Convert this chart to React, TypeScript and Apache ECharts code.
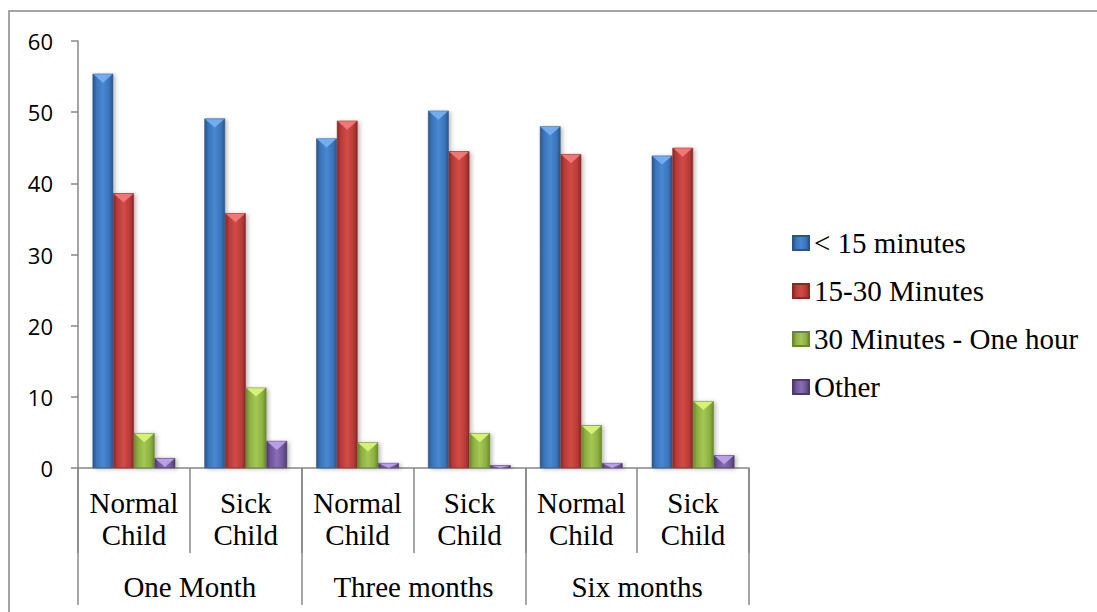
import React, { useEffect, useRef } from "react";
import * as echarts from "echarts";

// Sub-groups along the x axis (two-line labels) and the period each pair belongs to
const categories = [
  "Normal\nChild",
  "Sick\nChild",
  "Normal\nChild",
  "Sick\nChild",
  "Normal\nChild",
  "Sick\nChild",
];
const periods = ["One Month", "Three months", "Six months"];

const seriesNames = ["< 15 minutes", "15-30 Minutes", "30 Minutes - One hour", "Other"];

// Percentages per duration
const under15 = [55.4, 49.1, 46.3, 50.2, 48.0, 43.9];
const from15to30 = [38.6, 35.8, 48.8, 44.5, 44.1, 45.0];
const from30to60 = [4.9, 11.3, 3.6, 4.9, 6.0, 9.4];
const other = [1.4, 3.8, 0.7, 0.4, 0.7, 1.8];

const yMin = 0;
const yMax = 60;
const yStep = 10;

const seriesValues = [under15, from15to30, from30to60, other];

// Bevelled look: dark edges, lighter middle, and a pale cap on top
const palette = [
  { dark: "#2a548c", base: "#3a74b8", light: "#4888d4", cap: "#74b0f2" },
  { dark: "#8a2826", base: "#b73b38", light: "#d34a46", cap: "#f27a78" },
  { dark: "#6a882e", base: "#8caf40", light: "#a4c756", cap: "#d8f478" },
  { dark: "#4c3a6c", base: "#6d5596", light: "#8a6db8", cap: "#bda2e6" },
];

const CATEGORY_GAP = 0.26;
const AXIS_GREY = "#878787";
const SERIF = "'Liberation Serif', 'Times New Roman', 'DejaVu Serif', serif";
const SANS = "'Open Sans', 'Liberation Sans', sans-serif";

function barGradient(p: { dark: string; base: string; light: string }) {
  return new echarts.graphic.LinearGradient(0, 0, 1, 0, [
    { offset: 0, color: p.dark },
    { offset: 0.18, color: p.base },
    { offset: 0.5, color: p.light },
    { offset: 0.82, color: p.base },
    { offset: 1, color: p.dark },
  ]);
}

export default function App() {
  const ref = useRef<HTMLDivElement>(null);

  useEffect(() => {
    document.body.style.margin = "0";
    const chart = echarts.init(ref.current!, null, { renderer: "svg" });

    const barSeries = seriesValues.map((vals, i) => ({
      name: seriesNames[i],
      type: "bar",
      data: vals,
      barGap: "0%",
      barCategoryGap: `${CATEGORY_GAP * 100}%`,
      itemStyle: {
        color: barGradient(palette[i]),
        borderColor: palette[i].dark,
        borderWidth: 0.6,
        shadowColor: "rgba(0,0,0,0.28)",
        shadowBlur: 4,
        shadowOffsetX: 2,
        shadowOffsetY: 1,
      },
      z: 2,
    }));

    // Pale triangular cap at the top of every bar
    const capSeries = seriesValues.map((vals, i) => ({
      name: `cap-${i}`,
      type: "custom",
      data: vals.map((v, c) => [c, v]),
      encode: { x: 0, y: 1 },
      z: 4,
      silent: true,
      renderItem: (_params: any, api: any) => {
        const c = api.value(0);
        const v = api.value(1);
        const top = api.coord([c, v]);
        const base = api.coord([c, 0]);
        const band = api.size([1, 0])[0];
        const bw = (band * (1 - CATEGORY_GAP)) / seriesValues.length;
        const x0 = top[0] - (band * (1 - CATEGORY_GAP)) / 2 + bw * i;
        const h = Math.min(9, Math.max(0, base[1] - top[1]));
        return {
          type: "polygon",
          shape: {
            points: [
              [x0 + 0.8, top[1] + 0.6],
              [x0 + bw - 0.8, top[1] + 0.6],
              [x0 + bw / 2, top[1] + h],
            ],
          },
          style: { fill: palette[i].cap, opacity: 0.95 },
        };
      },
    }));

    chart.setOption({
      animation: false,
      grid: { left: 78, right: 348, top: 41, bottom: 144, containLabel: false },
      legend: {
        data: seriesNames,
        orient: "vertical",
        left: 792,
        top: 228,
        padding: 0,
        itemGap: 18,
        itemWidth: 16,
        itemHeight: 14,
        icon: "rect",
        selectedMode: false,
        textStyle: {
          fontFamily: SERIF,
          fontSize: 29,
          lineHeight: 30,
          color: "#000",
        },
      },
      xAxis: [
        {
          type: "category",
          data: categories,
          position: "bottom",
          axisLine: { show: true, lineStyle: { color: AXIS_GREY, width: 1.5 } },
          axisTick: { show: true, interval: 0, length: 85, lineStyle: { color: AXIS_GREY, width: 1.5 } },
          axisLabel: {
            interval: 0,
            margin: 19,
            fontFamily: SERIF,
            fontSize: 29,
            lineHeight: 32,
            color: "#000",
          },
          splitLine: { show: false },
        },
        {
          type: "category",
          data: periods,
          position: "bottom",
          gridIndex: 0,
          axisLine: { show: false },
          axisTick: { show: true, interval: 0, length: 137, lineStyle: { color: AXIS_GREY, width: 1.5 } },
          axisLabel: {
            interval: 0,
            margin: 103,
            fontFamily: SERIF,
            fontSize: 29,
            lineHeight: 32,
            color: "#000",
          },
          splitLine: { show: false },
        },
      ],
      yAxis: {
        type: "value",
        min: yMin,
        max: yMax,
        interval: yStep,
        axisLine: { show: true, lineStyle: { color: AXIS_GREY, width: 1.5 } },
        axisTick: { show: true, length: 7, lineStyle: { color: AXIS_GREY, width: 1.5 } },
        splitLine: { show: false },
        axisLabel: {
          margin: 25,
          fontFamily: SANS,
          fontSize: 22,
          color: "#000",
        },
      },
      graphic: [
        {
          type: "rect",
          x: 9,
          y: 11,
          shape: { x: 0, y: 0, width: 1100, height: 620 },
          style: { fill: "none", stroke: AXIS_GREY, lineWidth: 1.5 },
          silent: true,
          z: -1,
        },
      ],
      series: [...barSeries, ...capSeries],
    });

    return () => chart.dispose();
  }, []);

  return (
    <div
      ref={ref}
      style={{ position: "absolute", left: 0, top: 0, width: 1097, height: 612, background: "#fff" }}
    />
  );
}
